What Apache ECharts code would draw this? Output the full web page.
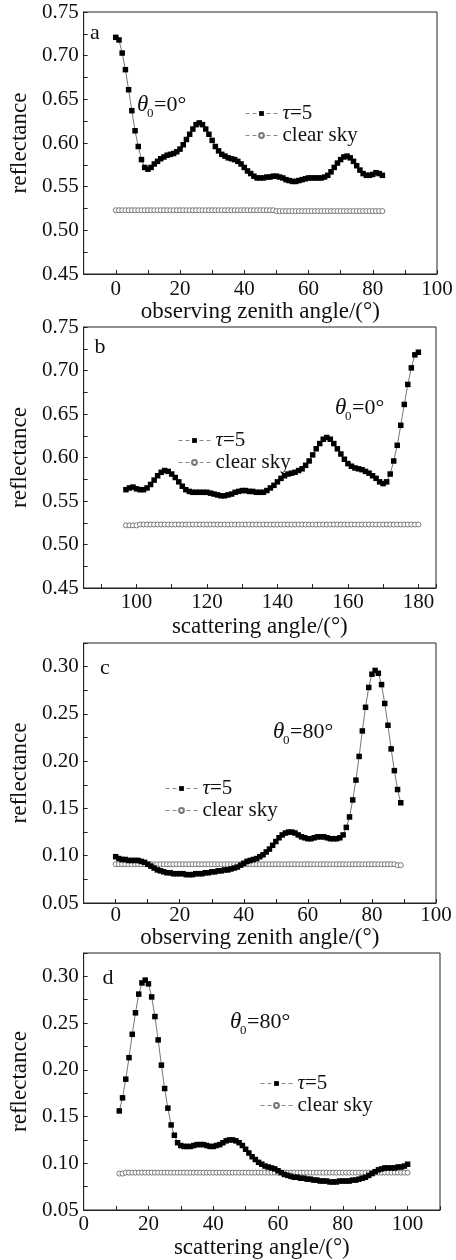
<!DOCTYPE html>
<html><head><meta charset="utf-8">
<script src="https://cdn.jsdelivr.net/npm/echarts@6/dist/echarts.min.js"></script>
<style>html,body{margin:0;padding:0;background:#fff}#c{width:456px;height:1260px}</style>
</head><body><div id="c"></div>
<script>
const FONT = '"Liberation Serif","Times New Roman",serif';

// Panel a: observing zenith angle 0..83 (1° step), theta0 = 0°
const startA = 0;
const tauA = [
0.721,0.718,0.703,0.684,0.661,0.637,0.614,0.596,0.581,0.572,
0.570,0.572,0.576,0.579,0.582,0.584,0.586,0.587,0.588,0.590,
0.593,0.598,0.604,0.610,0.616,0.621,0.623,0.621,0.616,0.610,
0.603,0.596,0.591,0.587,0.585,0.583,0.582,0.581,0.579,0.576,
0.572,0.568,0.565,0.562,0.560,0.560,0.560,0.561,0.561,0.562,
0.562,0.561,0.560,0.558,0.557,0.556,0.556,0.557,0.558,0.559,
0.560,0.560,0.560,0.560,0.560,0.561,0.563,0.567,0.572,0.577,
0.581,0.584,0.585,0.583,0.579,0.574,0.569,0.565,0.563,0.563,
0.564,0.566,0.565,0.563];
const clearA = [
0.523,0.523,0.523,0.523,0.523,0.523,0.523,0.523,0.523,0.523,
0.523,0.523,0.523,0.523,0.523,0.523,0.523,0.523,0.523,0.523,
0.523,0.523,0.523,0.523,0.523,0.523,0.523,0.523,0.523,0.523,
0.523,0.523,0.523,0.523,0.523,0.523,0.523,0.523,0.523,0.523,
0.523,0.523,0.523,0.523,0.523,0.523,0.523,0.523,0.523,0.523,
0.522,0.522,0.522,0.522,0.522,0.522,0.522,0.522,0.522,0.522,
0.522,0.522,0.522,0.522,0.522,0.522,0.522,0.522,0.522,0.522,
0.522,0.522,0.522,0.522,0.522,0.522,0.522,0.522,0.522,0.522,
0.522,0.522,0.522,0.522];

// Panel b: scattering angle 97..180, theta0 = 0°
const startB = 97;
const tauB = [
0.563,0.565,0.566,0.564,0.563,0.563,0.565,0.569,0.574,0.579,
0.583,0.585,0.584,0.581,0.577,0.572,0.567,0.563,0.561,0.560,
0.560,0.560,0.560,0.560,0.559,0.558,0.557,0.556,0.556,0.557,
0.558,0.560,0.561,0.562,0.562,0.561,0.561,0.560,0.560,0.560,
0.562,0.565,0.568,0.572,0.576,0.579,0.581,0.582,0.583,0.585,
0.587,0.591,0.596,0.603,0.610,0.616,0.621,0.623,0.621,0.616,
0.610,0.604,0.598,0.593,0.590,0.588,0.587,0.586,0.584,0.582,
0.579,0.576,0.572,0.570,0.572,0.581,0.596,0.614,0.637,0.661,
0.684,0.703,0.718,0.721];
const clearB = [
0.522,0.522,0.522,0.522,0.523,0.523,0.523,0.523,0.523,0.523,
0.523,0.523,0.523,0.523,0.523,0.523,0.523,0.523,0.523,0.523,
0.523,0.523,0.523,0.523,0.523,0.523,0.523,0.523,0.523,0.523,
0.523,0.523,0.523,0.523,0.523,0.523,0.523,0.523,0.523,0.523,
0.523,0.523,0.523,0.523,0.523,0.523,0.523,0.523,0.523,0.523,
0.523,0.523,0.523,0.523,0.523,0.523,0.523,0.523,0.523,0.523,
0.523,0.523,0.523,0.523,0.523,0.523,0.523,0.523,0.523,0.523,
0.523,0.523,0.523,0.523,0.523,0.523,0.523,0.523,0.523,0.523,
0.523,0.523,0.523,0.523];

// Panel c: observing zenith angle 0..89, theta0 = 80°
const startC = 0;
const tauC = [
0.099,0.097,0.096,0.096,0.095,0.095,0.095,0.095,0.094,0.093,
0.091,0.089,0.087,0.085,0.084,0.083,0.082,0.082,0.081,0.081,
0.081,0.081,0.080,0.080,0.080,0.081,0.081,0.081,0.082,0.082,
0.083,0.083,0.084,0.084,0.085,0.085,0.086,0.087,0.088,0.090,
0.092,0.094,0.095,0.096,0.097,0.099,0.101,0.104,0.107,0.111,
0.115,0.119,0.122,0.124,0.125,0.125,0.124,0.122,0.120,0.119,
0.118,0.118,0.119,0.120,0.120,0.120,0.119,0.118,0.118,0.118,
0.119,0.122,0.130,0.141,0.159,0.180,0.205,0.232,0.257,0.278,
0.292,0.296,0.293,0.281,0.261,0.238,0.213,0.190,0.170,0.156];
const clearC = [
0.091,0.091,0.091,0.091,0.091,0.091,0.091,0.091,0.091,0.091,
0.091,0.091,0.091,0.091,0.091,0.091,0.091,0.091,0.091,0.091,
0.091,0.091,0.091,0.091,0.091,0.091,0.091,0.091,0.091,0.091,
0.091,0.091,0.091,0.091,0.091,0.091,0.091,0.091,0.091,0.091,
0.091,0.091,0.091,0.091,0.091,0.091,0.091,0.091,0.091,0.091,
0.091,0.091,0.091,0.091,0.091,0.091,0.091,0.091,0.091,0.091,
0.091,0.091,0.091,0.091,0.091,0.091,0.091,0.091,0.091,0.091,
0.091,0.091,0.091,0.091,0.091,0.091,0.091,0.091,0.091,0.091,
0.091,0.091,0.091,0.091,0.091,0.091,0.091,0.091,0.090,0.090];

// Panel d: scattering angle 11..100, theta0 = 80°
const startD = 11;
const tauD = [
0.156,0.170,0.190,0.213,0.238,0.261,0.281,0.293,0.296,0.292,
0.278,0.257,0.232,0.205,0.180,0.159,0.141,0.130,0.122,0.119,
0.118,0.118,0.118,0.119,0.120,0.120,0.120,0.119,0.118,0.118,
0.119,0.120,0.122,0.124,0.125,0.125,0.124,0.122,0.119,0.115,
0.111,0.107,0.104,0.101,0.099,0.097,0.096,0.095,0.094,0.092,
0.090,0.088,0.087,0.086,0.085,0.085,0.084,0.084,0.083,0.083,
0.082,0.082,0.081,0.081,0.081,0.080,0.080,0.080,0.081,0.081,
0.081,0.081,0.082,0.082,0.083,0.084,0.085,0.087,0.089,0.091,
0.093,0.094,0.095,0.095,0.095,0.095,0.096,0.096,0.097,0.099];
const clearD = [
0.089,0.089,0.090,0.090,0.090,0.090,0.090,0.090,0.090,0.090,
0.090,0.090,0.090,0.090,0.090,0.090,0.090,0.090,0.090,0.090,
0.090,0.090,0.090,0.090,0.090,0.090,0.090,0.090,0.090,0.090,
0.090,0.090,0.090,0.090,0.090,0.090,0.090,0.090,0.090,0.090,
0.090,0.090,0.090,0.090,0.090,0.090,0.090,0.090,0.090,0.090,
0.090,0.090,0.090,0.090,0.090,0.090,0.090,0.090,0.090,0.090,
0.090,0.090,0.090,0.090,0.090,0.090,0.090,0.090,0.090,0.090,
0.090,0.090,0.090,0.090,0.090,0.090,0.090,0.090,0.090,0.090,
0.090,0.090,0.090,0.090,0.090,0.090,0.090,0.090,0.090,0.090];

const names = ['τ=5', 'clear sky'];
const panelLetters = ['a', 'b', 'c', 'd'];
const xTitles = ['observing zenith angle/(°)', 'scattering angle/(°)', 'observing zenith angle/(°)', 'scattering angle/(°)'];
const yTitle = 'reflectance';
const thetaText = ['=0°', '=0°', '=80°', '=80°'];

const toPts = (x0, vals) => vals.map((v, i) => [x0 + i, v]);

const grids = [
  {left: 77, top: 12, width: 360, height: 262},
  {left: 77, top: 327, width: 359, height: 261},
  {left: 77, top: 643, width: 359, height: 260},
  {left: 80, top: 953, width: 360, height: 257}
];

const axisCommon = {
  axisLine: {onZero: false, lineStyle: {color: '#222', width: 1}},
  axisTick: {inside: true, length: 4, lineStyle: {color: '#222'}},
  splitLine: {show: false},
  nameTextStyle: {fontFamily: FONT, fontSize: 23, color: '#111'},
  nameLocation: 'middle'
};
const lab = (margin) => ({fontFamily: FONT, fontSize: 21, color: '#111', margin: margin});
const xFmt = v => (Math.round(v) % 20 === 0 ? String(Math.round(v)) : '');
const yFmt = v => (Math.round(v * 1000) % 50 === 0 ? v.toFixed(2) : '');

const xAxes = [
  Object.assign({}, axisCommon, {gridIndex: 0, type: 'value', min: -10, max: 100, interval: 10, name: xTitles[0], nameGap: 24, axisLabel: Object.assign(lab(5), {formatter: xFmt})}),
  Object.assign({}, axisCommon, {gridIndex: 1, type: 'value', min: 85, max: 185, splitNumber: 10, name: xTitles[1], nameGap: 27, axisLabel: Object.assign(lab(4), {formatter: xFmt})}),
  Object.assign({}, axisCommon, {gridIndex: 2, type: 'value', min: -10, max: 100, interval: 10, name: xTitles[2], nameGap: 23, axisLabel: Object.assign(lab(2), {formatter: xFmt})}),
  Object.assign({}, axisCommon, {gridIndex: 3, type: 'value', min: 0, max: 110, interval: 10, name: xTitles[3], nameGap: 26, axisLabel: Object.assign(lab(4), {formatter: v => (v <= 100 ? xFmt(v) : '')})})
];
const yAxes = [
  Object.assign({}, axisCommon, {gridIndex: 0, type: 'value', min: 0.45, max: 0.75, interval: 0.025, name: yTitle, nameGap: 47, axisLabel: Object.assign(lab(5), {formatter: yFmt})}),
  Object.assign({}, axisCommon, {gridIndex: 1, type: 'value', min: 0.45, max: 0.75, interval: 0.025, name: yTitle, nameGap: 47, axisLabel: Object.assign(lab(5), {formatter: yFmt})}),
  Object.assign({}, axisCommon, {gridIndex: 2, type: 'value', min: 0.05, max: 0.325, interval: 0.025, name: yTitle, nameGap: 44, axisLabel: Object.assign(lab(5), {formatter: yFmt})}),
  Object.assign({}, axisCommon, {gridIndex: 3, type: 'value', min: 0.05, max: 0.325, interval: 0.025, name: yTitle, nameGap: 44, axisLabel: Object.assign(lab(5), {formatter: yFmt})})
];

const tauSeries = (i, data) => ({
  name: names[0], type: 'line', xAxisIndex: i, yAxisIndex: i, data: data, z: 3,
  symbol: 'rect', symbolSize: 5.5,
  itemStyle: {color: '#000'},
  lineStyle: {color: '#777', width: 1},
  silent: true
});
const clearSeries = (i, data) => ({
  name: names[1], type: 'line', xAxisIndex: i, yAxisIndex: i, data: data, z: 2,
  symbol: 'circle', symbolSize: 5,
  itemStyle: {color: '#fff', borderColor: '#777', borderWidth: 1},
  lineStyle: {color: '#999', width: 1},
  silent: true
});

const legendPos = [
  {left: 245, top: 103},
  {left: 178, top: 430},
  {left: 165, top: 778},
  {left: 260, top: 1073}
];
const legends = legendPos.map(p => ({
  left: p.left, top: p.top, orient: 'vertical', padding: 0, itemGap: 1,
  itemWidth: 32, itemHeight: 6, selectedMode: false,
  data: names,
  lineStyle: {type: [4, 3], color: '#888', width: 1},
  formatter: n => (n === names[0] ? '{i|τ}=5' : n),
  textStyle: {fontFamily: FONT, fontSize: 21, color: '#111', lineHeight: 19,
    rich: {i: {fontFamily: FONT, fontSize: 21, fontStyle: 'italic', color: '#111', lineHeight: 19}}}
}));

const letterPos = [[95, 33], [100, 347], [105, 668], [108, 978]];
const thetaPos = [[137, 105], [335, 408], [273, 732], [230, 1022]];
const graphics = [];
letterPos.forEach((p, i) => graphics.push({
  type: 'text', x: p[0], y: p[1],
  style: {text: panelLetters[i], fontFamily: FONT, fontSize: 22, fill: '#111', textAlign: 'center', textVerticalAlign: 'middle'}
}));
thetaPos.forEach((p, i) => {
  graphics.push({
    type: 'text', x: p[0], y: p[1],
    style: {text: 'θ', fontFamily: FONT, fontSize: 23, fontStyle: 'italic', fill: '#111', textAlign: 'left', textVerticalAlign: 'middle'}
  });
  graphics.push({
    type: 'text', x: p[0] + 10, y: p[1] + 9,
    style: {text: '0', fontFamily: FONT, fontSize: 13, fill: '#111', textAlign: 'left', textVerticalAlign: 'middle'}
  });
  graphics.push({
    type: 'text', x: p[0] + 17, y: p[1],
    style: {text: thetaText[i], fontFamily: FONT, fontSize: 22, fill: '#111', textAlign: 'left', textVerticalAlign: 'middle'}
  });
});

const chart = echarts.init(document.getElementById('c'), null, {renderer: 'canvas'});
chart.setOption({
  animation: false,
  backgroundColor: '#fff',
  grid: grids.map(g => Object.assign({show: true, borderColor: '#222', borderWidth: 1, backgroundColor: 'transparent'}, g)),
  xAxis: xAxes,
  yAxis: yAxes,
  legend: legends,
  graphic: graphics,
  series: [
    clearSeries(0, toPts(startA, clearA)), tauSeries(0, toPts(startA, tauA)),
    clearSeries(1, toPts(startB, clearB)), tauSeries(1, toPts(startB, tauB)),
    clearSeries(2, toPts(startC, clearC)), tauSeries(2, toPts(startC, tauC)),
    clearSeries(3, toPts(startD, clearD)), tauSeries(3, toPts(startD, tauD))
  ]
});
</script>
</body></html>
